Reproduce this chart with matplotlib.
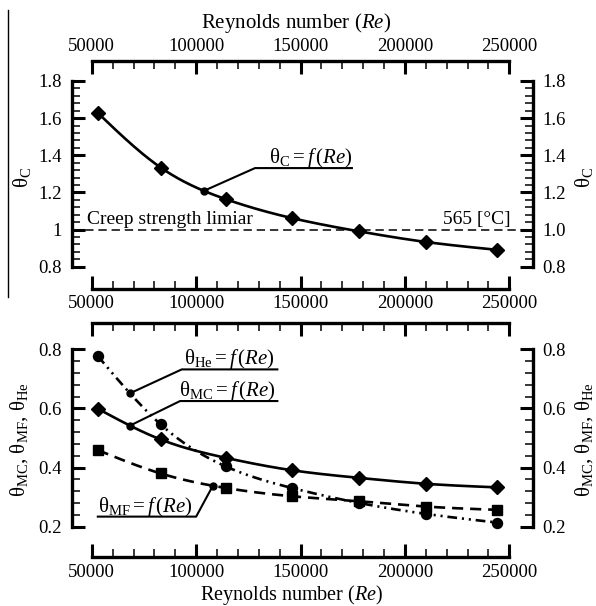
import numpy as np
import matplotlib.pyplot as plt
from matplotlib.lines import Line2D
from matplotlib.ticker import FixedLocator

plt.rcParams['font.family'] = ['Liberation Serif', 'DejaVu Serif']
plt.rcParams['mathtext.fontset'] = 'custom'
plt.rcParams['mathtext.rm'] = 'Liberation Serif'
plt.rcParams['mathtext.it'] = 'Liberation Serif:italic'
plt.rcParams['lines.scale_dashes'] = False

# values
re = [52900, 83000, 114100, 145800, 178200, 210200, 244100]
theta_c = [1.628, 1.334, 1.164, 1.062, 0.990, 0.933, 0.891]
theta_mc = [0.599, 0.495, 0.433, 0.391, 0.365, 0.345, 0.333]
theta_mf = [0.459, 0.380, 0.331, 0.303, 0.286, 0.268, 0.257]
theta_he = [0.777, 0.546, 0.404, 0.331, 0.280, 0.243, 0.214]

x_ticks = [50000, 100000, 150000, 200000, 250000]
x_labels = ['50000', '100000', '150000', '200000', '250000']
top_yticks = [0.8, 1.0, 1.2, 1.4, 1.6, 1.8]
top_left_labels = ['0.8', '1', '1.2', '1.4', '1.6', '1.8']
top_right_labels = ['0.8', '1.0', '1.2', '1.4', '1.6', '1.8']
bot_yticks = [0.2, 0.4, 0.6, 0.8]
bot_labels = ['0.2', '0.4', '0.6', '0.8']

creep_limit = 1.0
FS_TICK = 13.5
FS_TEXT = 14
FS_MATH = 15
FS_LABEL = 15


def spline(x, y, n=300):
    # natural cubic spline, only used to draw the smooth curve
    x = np.asarray(x, float)
    y = np.asarray(y, float)
    m = len(x)
    h = np.diff(x)
    A = np.zeros((m, m))
    b = np.zeros(m)
    A[0, 0] = A[-1, -1] = 1
    for i in range(1, m - 1):
        A[i, i - 1] = h[i - 1]
        A[i, i] = 2 * (h[i - 1] + h[i])
        A[i, i + 1] = h[i]
        b[i] = 6 * ((y[i + 1] - y[i]) / h[i] - (y[i] - y[i - 1]) / h[i - 1])
    M = np.linalg.solve(A, b)

    def f(xs):
        xs = np.atleast_1d(np.asarray(xs, float))
        k = np.clip(np.searchsorted(x, xs) - 1, 0, m - 2)
        hk = h[k]
        a = x[k + 1] - xs
        c = xs - x[k]
        return (M[k] * a ** 3 / (6 * hk) + M[k + 1] * c ** 3 / (6 * hk)
                + (y[k] / hk - M[k] * hk / 6) * a + (y[k + 1] / hk - M[k + 1] * hk / 6) * c)

    xs = np.linspace(x[0], x[-1], n)
    return xs, f(xs), f


def setup(ax, ylim, yticks, left_labels, right_labels, minor_step, labeltop, labelbottom):
    ax.set_xlim(40400, 261200)
    ax.set_ylim(*ylim)
    for s in ['left', 'top', 'bottom']:
        ax.spines[s].set_linewidth(2.4)
    ax.spines['right'].set_visible(False)
    ax.spines['left'].set_bounds(yticks[0], yticks[-1])
    ax.spines['top'].set_bounds(x_ticks[0], x_ticks[-1])
    ax.spines['bottom'].set_bounds(x_ticks[0], x_ticks[-1])

    ax.set_xticks(x_ticks)
    ax.set_xticklabels(x_labels)
    ax.xaxis.set_minor_locator(FixedLocator(np.arange(x_ticks[0], x_ticks[-1] + 1, 10000)))
    ax.set_yticks(yticks)
    ax.set_yticklabels(left_labels)
    ax.yaxis.set_minor_locator(FixedLocator(np.arange(yticks[0], yticks[-1] + 1e-6, minor_step)))

    ax.tick_params(which='both', direction='in', top=True, bottom=True, left=True, right=False)
    ax.tick_params(which='major', length=9.4, width=2.2, labelsize=FS_TICK)
    ax.tick_params(which='minor', length=6, width=1.1)
    ax.tick_params(axis='y', pad=7)
    ax.tick_params(axis='x', labeltop=labeltop, labelbottom=labelbottom)

    tw = ax.twinx()
    tw.set_ylim(*ylim)
    for s in ['left', 'top', 'bottom']:
        tw.spines[s].set_visible(False)
    tw.spines['right'].set_linewidth(2.4)
    tw.spines['right'].set_bounds(yticks[0], yticks[-1])
    tw.set_yticks(yticks)
    tw.set_yticklabels(right_labels)
    tw.yaxis.set_minor_locator(FixedLocator(np.arange(yticks[0], yticks[-1] + 1e-6, minor_step)))
    tw.tick_params(which='both', direction='in', right=True, left=False)
    tw.tick_params(which='major', length=9.4, width=2.2, labelsize=FS_TICK, pad=7)
    tw.tick_params(which='minor', length=6, width=1.1)
    return tw


def leader(ax, pts, text, tx, ty, ha):
    xs, ys = zip(*pts)
    ax.plot(xs, ys, color='black', lw=1.5, solid_capstyle='butt', zorder=4)
    ax.text(tx, ty, text, fontsize=FS_MATH, ha=ha, va='baseline')


def px(x, y):
    return x / 596, 1 - y / 606


fig = plt.figure(figsize=(5.96, 6.06), dpi=100)
ax1 = fig.add_axes([0.1203, 0.5231, 0.7735, 0.3767])
ax2 = fig.add_axes([0.1203, 0.0814, 0.7735, 0.3851])

# ---- top panel
setup(ax1, (0.68, 1.909), top_yticks, top_left_labels, top_right_labels, 0.04, True, True)
ax1.xaxis.set_tick_params(which='major', pad=4)

xs, ys, fc = spline(re, theta_c)
ax1.plot(xs, ys, color='black', lw=1.9, zorder=3)
ax1.plot(re, theta_c, ls='none', marker='D', ms=7.5, color='black', zorder=5)
ax1.axhline(creep_limit, color='black', lw=1.1, dashes=(6, 3.5), zorder=2)
ax1.text(47750, 1.032, 'Creep strength limiar', fontsize=FS_TEXT, ha='left', va='baseline')
ax1.text(250700, 1.032, '565 [°C]', fontsize=FS_TEXT, ha='right', va='baseline')

d1 = 103700
ax1.plot([d1], fc(d1), marker='o', ms=5, color='black', zorder=5)
leader(ax1, [(d1, fc(d1)[0]), (128200, 1.331), (175100, 1.331)],
       r'$\mathrm{\theta_{C}} = \mathit{f}\,(\mathit{Re})$', 175100, 1.358, 'right')

# ---- bottom panel
setup(ax2, (0.0985, 0.888), bot_yticks, bot_labels, bot_labels, 0.04, False, True)
ax2.xaxis.set_tick_params(which='major', pad=5)

xs, ys, fmc = spline(re, theta_mc)
ax2.plot(xs, ys, color='black', lw=1.9, zorder=3)
ax2.plot(re, theta_mc, ls='none', marker='D', ms=7.5, color='black', zorder=5)

xs, ys, fmf = spline(re, theta_mf)
ax2.plot(xs, ys, color='black', lw=1.9, dashes=(8, 5), zorder=3)
ax2.plot(re, theta_mf, ls='none', marker='s', ms=7, color='black', zorder=5)

xs, ys, fhe = spline(re, theta_he)
ax2.plot(xs, ys, color='black', lw=1.9, dashes=(7, 3.5, 1.5, 3.5, 1.5, 3.5), zorder=3)
ax2.plot(re, theta_he, ls='none', marker='o', ms=7.2, color='black', zorder=5)

d_he, d_mc, d_mf = 68300, 68300, 108000
ax2.plot([d_he], fhe(d_he), marker='o', ms=5, color='black', zorder=5)
ax2.plot([d_mc], fmc(d_mc), marker='o', ms=5, color='black', zorder=5)
ax2.plot([d_mf], fmf(d_mf), marker='o', ms=5, color='black', zorder=5)
leader(ax2, [(d_he, fhe(d_he)[0]), (93100, 0.732), (139400, 0.732)],
       r'$\mathrm{\theta_{He}} = \mathit{f}\,(\mathit{Re})$', 137500, 0.749, 'right')
leader(ax2, [(d_mc, fmc(d_mc)[0]), (92300, 0.625), (139400, 0.625)],
       r'$\mathrm{\theta_{MC}} = \mathit{f}\,(\mathit{Re})$', 137800, 0.641, 'right')
leader(ax2, [(d_mf, fmf(d_mf)[0]), (100000, 0.234), (52400, 0.234)],
       r'$\mathrm{\theta_{MF}} = \mathit{f}\,(\mathit{Re})$', 53000, 0.250, 'left')

# ---- labels
fig.text(*px(296, 28), r'Reynolds number ($\mathit{Re}$)', fontsize=FS_LABEL, ha='center', va='baseline')
fig.text(*px(292, 600), r'Reynolds number ($\mathit{Re}$)', fontsize=14.5, ha='center', va='baseline')
fig.text(*px(22, 177), r'$\mathrm{\theta_{C}}$', fontsize=FS_LABEL, rotation=90, ha='center', va='center')
fig.text(*px(584, 177), r'$\mathrm{\theta_{C}}$', fontsize=FS_LABEL, rotation=90, ha='center', va='center')
blab = r'$\mathrm{\theta_{MC}}$, $\mathrm{\theta_{MF}}$, $\mathrm{\theta_{He}}$'
fig.text(*px(19, 440), blab, fontsize=FS_LABEL, rotation=90, ha='center', va='center')
fig.text(*px(584, 440), blab, fontsize=FS_LABEL, rotation=90, ha='center', va='center')

# thin vertical rule at the far left of the upper half
fig.add_artist(Line2D([8 / 596, 8 / 596], [1 - 10 / 606, 1 - 297 / 606], color='black', lw=1))

fig.savefig('out.png', dpi=100)
